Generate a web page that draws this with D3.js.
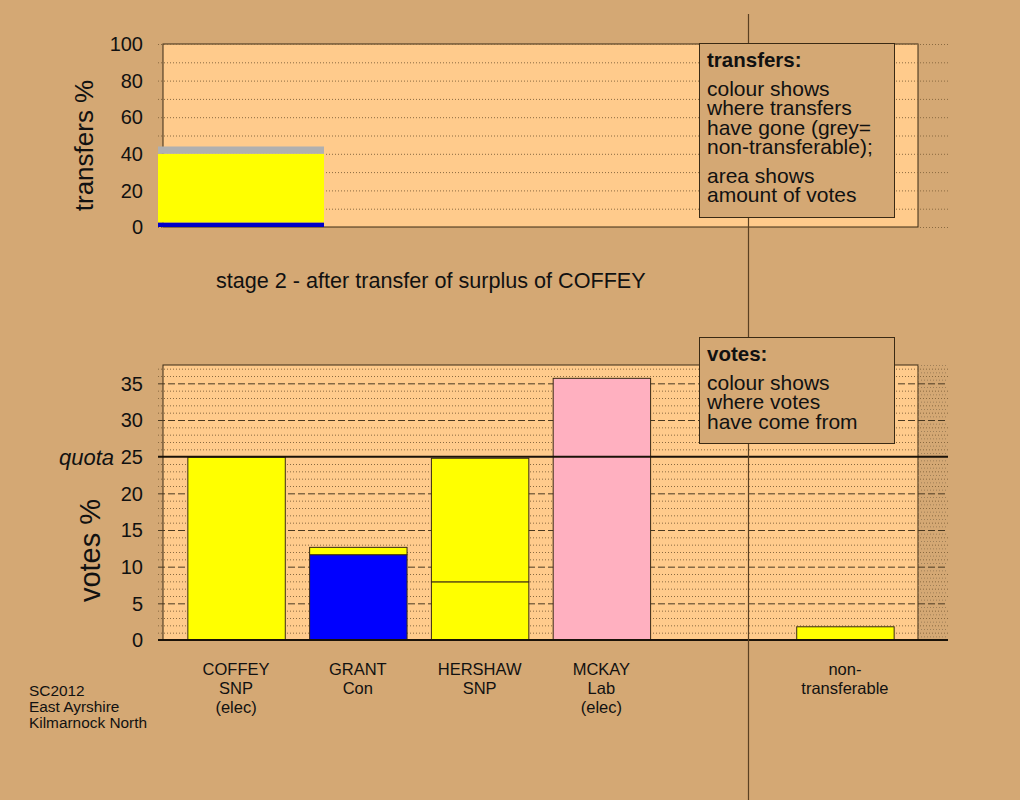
<!DOCTYPE html>
<html><head><meta charset="utf-8">
<script src="https://cdn.jsdelivr.net/npm/d3@7"></script>
<style>
html,body{margin:0;padding:0;background:#D4A874;}
svg{display:block;font-family:"Liberation Sans",Arial,Helvetica,sans-serif;}
</style></head>
<body>
<script>
// ---------- data ----------
const categories = ["COFFEY","GRANT","HERSHAW","MCKAY","","non-transferable"];
const categoryLabels = [["COFFEY","SNP","(elec)"],["GRANT","Con"],["HERSHAW","SNP"],["MCKAY","Lab","(elec)"],[],["non-","transferable"]];
// stacked vote segments per candidate (bottom → top), % of votes
const segCandidate = ["COFFEY","GRANT","GRANT","HERSHAW","HERSHAW","MCKAY","non-transferable"];
const segValue     = [25.0,    11.7,   1.0,    8.0,      16.85,    35.75,  1.87];
const segSource    = ["SNP",   "Con",  "SNP",  "SNP",    "SNP",    "Lab",  "SNP"];
// transfers of surplus of COFFEY (bottom → top), % of transfers
const transferTo    = ["Con","SNP","non-transferable"];
const transferValue = [2.5, 37.5, 4.0];
const transferWidth = [0, 1];
const topTicks = [0,20,40,60,80,100];
const bottomTicks = [0,5,10,15,20,25,30,35];
const quota = 25;
const title = "stage 2 - after transfer of surplus of COFFEY";
const footnote = ["SC2012","East Ayrshire","Kilmarnock North"];
const legendTransfers = ["colour shows","where transfers","have gone (grey=","non-transferable);"];
const legendTransfers2 = ["area shows","amount of votes"];
const legendVotes = ["colour shows","where votes","have come from"];

// ---------- styles ----------
const partyColor = {SNP:"#FFFF00", Con:"#0000FF", Lab:"#FFB0C0"};
const transferColor = {SNP:"#FFFF00", Con:"#0000C8", "non-transferable":"#B0B0B0"};
const BG = "#D4A874", PANEL = "#FFCB8C", DARK = "#3a2a14";

const W = 1020, H = 800;
const svg = d3.select("body").append("svg").attr("width",W).attr("height",H);
svg.append("rect").attr("width",W).attr("height",H).attr("fill",BG);

const panelL = 163, panelR = 918, gridL = 158, gridR = 948;

// ---------- top chart ----------
const yT = d3.scaleLinear().domain([0,100]).range([227,44]);
const xT = d3.scaleLinear().domain([0,1]).range([158,324]);
const gT = svg.append("g");
gT.append("rect").attr("x",panelL).attr("y",yT(100)).attr("width",panelR-panelL).attr("height",yT(0)-yT(100))
  .attr("fill",PANEL).attr("stroke",DARK).attr("stroke-width",1);
gT.selectAll("line.dot").data(d3.range(0,101,10)).join("line")
  .attr("x1",gridL).attr("x2",gridR).attr("y1",d=>yT(d)+0.5).attr("y2",d=>yT(d)+0.5)
  .attr("stroke","#8a6a40").attr("stroke-width",1).attr("stroke-dasharray","1,2");
// transfers stack
let acc = 0;
const tStack = transferValue.map((v,i)=>{const s={y0:acc,y1:acc+v,to:transferTo[i]};acc+=v;return s;});
gT.selectAll("rect.tr").data(tStack).join("rect")
  .attr("x",xT(transferWidth[0])).attr("width",xT(transferWidth[1])-xT(transferWidth[0]))
  .attr("y",d=>yT(d.y1)).attr("height",d=>yT(d.y0)-yT(d.y1))
  .attr("fill",d=>transferColor[d.to]);
gT.selectAll("text.tick").data(topTicks).join("text")
  .attr("x",143).attr("y",d=>yT(d)).attr("dy","0.36em").attr("text-anchor","end")
  .attr("font-size",20).attr("fill","#111").text(d=>d);
gT.append("text").attr("transform",`translate(93,${(yT(0)+yT(100))/2+10}) rotate(-90)`)
  .attr("text-anchor","middle").attr("font-size",26).attr("fill","#111").text("transfers %");

svg.append("text").attr("x",216).attr("y",288).attr("font-size",21.6).attr("fill","#111").text(title);

// ---------- bottom chart ----------
const yB = d3.scaleLinear().domain([0,37.5]).range([640,365]);
const xB = d3.scaleBand().domain(categories).range([panelL,panelR]).paddingInner(0.2).paddingOuter(0.2);
const gB = svg.append("g");
gB.append("rect").attr("x",panelL).attr("y",yB(37.5)).attr("width",panelR-panelL).attr("height",yB(0)-yB(37.5))
  .attr("fill",PANEL).attr("stroke",DARK).attr("stroke-width",1);
// shaded strip beyond panel
gB.selectAll("line.dot2").data(d3.range(0.5,37.6,1)).join("line")
  .attr("x1",panelR).attr("x2",gridR).attr("y1",d=>yB(d)+0.5).attr("y2",d=>yB(d)+0.5)
  .attr("stroke","#a08058").attr("stroke-width",1).attr("stroke-dasharray","1,2");
gB.selectAll("line.dot").data(d3.range(1,38,1).filter(d=>d%5!==0)).join("line")
  .attr("x1",gridL).attr("x2",gridR).attr("y1",d=>yB(d)+0.5).attr("y2",d=>yB(d)+0.5)
  .attr("stroke","#8a6a40").attr("stroke-width",1).attr("stroke-dasharray","1,2");
gB.selectAll("line.dash").data(bottomTicks.filter(d=>d!==0 && d!==quota)).join("line")
  .attr("x1",gridL).attr("x2",gridR).attr("y1",d=>yB(d)+0.5).attr("y2",d=>yB(d)+0.5)
  .attr("stroke","#4a3a22").attr("stroke-width",1).attr("stroke-dasharray","7,3");
// stacked bars
const accB = {};
const vStack = segValue.map((v,i)=>{const c=segCandidate[i];const y0=accB[c]||0;accB[c]=y0+v;return {c,y0,y1:y0+v,src:segSource[i]};});
gB.selectAll("rect.bar").data(vStack).join("rect")
  .attr("x",d=>xB(d.c)+0.5).attr("width",xB.bandwidth())
  .attr("y",d=>yB(d.y1)+0.5).attr("height",d=>yB(d.y0)-yB(d.y1))
  .attr("fill",d=>partyColor[d.src]).attr("stroke",DARK).attr("stroke-width",1);
// quota + zero lines
gB.append("line").attr("x1",gridL).attr("x2",gridR).attr("y1",yB(quota)).attr("y2",yB(quota))
  .attr("stroke","#1a1208").attr("stroke-width",2);
gB.append("line").attr("x1",gridL).attr("x2",gridR).attr("y1",yB(0)).attr("y2",yB(0))
  .attr("stroke","#1a1208").attr("stroke-width",2);
gB.selectAll("text.tick").data(bottomTicks).join("text")
  .attr("x",143).attr("y",d=>yB(d)).attr("dy","0.36em").attr("text-anchor","end")
  .attr("font-size",20).attr("fill","#111").text(d=>d);
gB.append("text").attr("x",114).attr("y",yB(quota)).attr("dy","0.36em").attr("text-anchor","end")
  .attr("font-size",22).attr("font-style","italic").attr("fill","#111").text("quota");
gB.append("text").attr("transform",`translate(100,${(yB(0)+yB(37.5))/2+48}) rotate(-90)`)
  .attr("text-anchor","middle").attr("font-size",29).attr("fill","#111").text("votes %");
// category labels
categories.forEach((c,i)=>{
  const t = gB.append("text").attr("text-anchor","middle").attr("font-size",16.5).attr("fill","#111");
  categoryLabels[i].forEach((ln,j)=>{
    t.append("tspan").attr("x",xB(c)+xB.bandwidth()/2).attr("y",675+j*19.2).text(ln);
  });
});
// footnote
const fn = svg.append("text").attr("font-size",15.4).attr("fill","#111");
footnote.forEach((ln,j)=>fn.append("tspan").attr("x",29).attr("y",695.5+j*16).text(ln));

// vertical divider
svg.append("line").attr("x1",748.5).attr("x2",748.5).attr("y1",14).attr("y2",H)
  .attr("stroke","#5a4022").attr("stroke-width",1.2);

// legends
function legend(x,y,w,h,head,blocks){
  const g = svg.append("g");
  g.append("rect").attr("x",x+0.5).attr("y",y+0.5).attr("width",w).attr("height",h)
    .attr("fill",BG).attr("stroke",DARK).attr("stroke-width",1);
  g.append("text").attr("x",x+8).attr("y",y+24).attr("font-size",20.5).attr("font-weight","bold").attr("fill","#111").text(head);
  let yy = y+53;
  blocks.forEach((blk,b)=>{
    if(b>0) yy += 9.5;
    blk.forEach(ln=>{g.append("text").attr("x",x+8).attr("y",yy).attr("font-size",21).attr("fill","#111").text(ln); yy+=19.3;});
  });
}
legend(699,43,195,174,"transfers:",[legendTransfers,legendTransfers2]);
legend(699,337,195,106,"votes:",[legendVotes]);
</script>
</body></html>
